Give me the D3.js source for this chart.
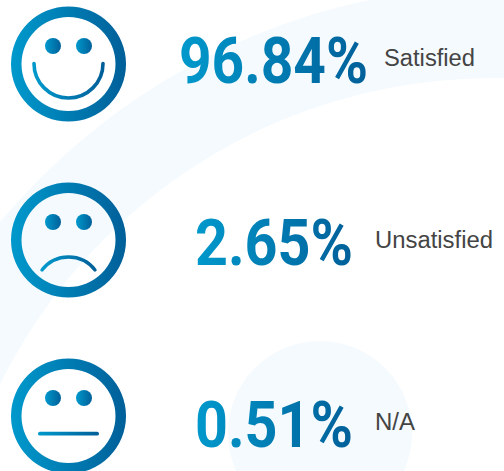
<!DOCTYPE html>
<html><head><meta charset="utf-8">
<style>html,body{margin:0;padding:0;background:#fff;overflow:hidden}svg{display:block}</style>
<script src="https://cdn.jsdelivr.net/npm/d3@7"></script></head><body>
<svg id="c" width="504" height="471"></svg>
<script>
const categories = ["Satisfied","Unsatisfied","N/A"];
const values = [96.84, 2.65, 0.51];
const moods = ["smile","frown","flat"];
const faceY = [64, 240, 416];
const valueLeft = [179, 195, 195];
const valueRight = [368, 353, 353];
const valueBase = [83, 265, 447];
const labelX = [384, 375, 375];
const labelRight = [475, 493, 415];
const labelBase = [66, 248, 430];

const svg = d3.select("#c");
const defs = svg.append("defs");
const g = defs.append("linearGradient").attr("id","blue").attr("x1",0).attr("x2",1).attr("y1",0).attr("y2",0);
g.append("stop").attr("offset",0).attr("stop-color","#0099cc");
g.append("stop").attr("offset",1).attr("stop-color","#005f99");

svg.append("rect").attr("width",504).attr("height",471).attr("fill","#fff");
const tint = "#f4fafd";
svg.append("circle").attr("cx",504).attr("cy",642).attr("r",656).attr("fill",tint);
svg.append("circle").attr("cx",493).attr("cy",628).attr("r",550).attr("fill","#fff");
svg.append("circle").attr("cx",320).attr("cy",433).attr("r",92).attr("fill",tint);

const faces = svg.selectAll("g.face").data(moods).join("g").attr("class","face")
  .attr("transform",(d,i)=>`translate(68.5,${faceY[i]})`);
faces.append("path")
  .attr("fill","url(#blue)").attr("fill-rule","evenodd")
  .attr("d",()=>{const p=d3.path();p.arc(0,0,57.5,0,2*Math.PI);p.closePath();p.moveTo(47,0);p.arc(0,0,47,0,2*Math.PI);p.closePath();return p.toString();});
faces.selectAll("circle.eye").data([-15.5,15.5]).join("circle").attr("class","eye")
  .attr("cx",d=>d).attr("cy",-18).attr("r",8).attr("fill","url(#blue)");
faces.each(function(m){
  const f=d3.select(this);
  if(m==="flat"){
    f.append("rect").attr("x",-30.5).attr("y",15.8).attr("width",61).attr("height",3.8).attr("rx",1.9).attr("fill","url(#blue)");
  } else {
    const p=d3.path();
    if(m==="smile") p.arc(0,-0.5,34.5,Math.PI,0,true);
    else { const a=Math.asin(26.5/33.5); p.arc(0,50.5,33.5,-Math.PI/2-a,-Math.PI/2+a,false); }
    f.append("path").attr("d",p.toString()).attr("fill","none").attr("stroke","url(#blue)")
      .attr("stroke-width",m==="smile"?3.6:3.4).attr("stroke-linecap","round");
  }
});

svg.selectAll("text.value").data(values).join("text").attr("class","value")
  .attr("x",(d,i)=>valueLeft[i]).attr("y",(d,i)=>valueBase[i])
  .attr("textLength",(d,i)=>valueRight[i]-valueLeft[i]).attr("lengthAdjust","spacingAndGlyphs")
  .attr("font-family","Roboto, sans-serif").attr("font-weight",700).attr("font-size",64)
  .attr("fill","url(#blue)").text(d=>d.toFixed(2)+"%");
svg.selectAll("text.label").data(categories).join("text").attr("class","label")
  .attr("x",(d,i)=>labelX[i]).attr("y",(d,i)=>labelBase[i])
  .attr("textLength",(d,i)=>labelRight[i]-labelX[i]).attr("lengthAdjust","spacingAndGlyphs")
  .attr("font-family","'Liberation Sans', sans-serif").attr("font-size",23.5)
  .attr("fill","#444").text(d=>d);
</script></body></html>
